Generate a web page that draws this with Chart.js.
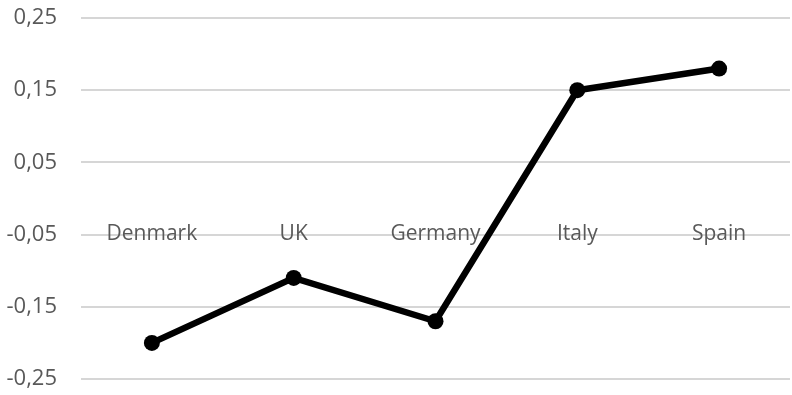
<!DOCTYPE html>
<html>
<head>
<meta charset="utf-8">
<script src="https://cdn.jsdelivr.net/npm/chart.js@4.4.1/dist/chart.umd.min.js"></script>
<style>
  html, body { margin: 0; padding: 0; background: #fff; overflow: hidden; }
  #wrap { width: 792px; height: 395px; overflow: hidden; }
  canvas { display: block; }
</style>
</head>
<body>
<div id="wrap"><canvas id="chart" width="798" height="395"></canvas></div>
<script>
const countries = ['Denmark', 'UK', 'Germany', 'Italy', 'Spain'];
const values = [-0.20, -0.11, -0.17, 0.15, 0.18];
const yMin = -0.25;
const yMax = 0.25;
const yStep = 0.1;

const labelColor = '#595959';
const gridColor = '#d6d6d6';
const family = '"Open Sans", sans-serif';

const fmt = v => v.toFixed(2).replace('.', ',');

new Chart(document.getElementById('chart'), {
  type: 'line',
  data: {
    labels: countries,
    datasets: [{
      data: values,
      borderColor: '#000',
      backgroundColor: '#000',
      borderWidth: 6.5,
      pointRadius: 8,
      pointHoverRadius: 8,
      pointBackgroundColor: '#000',
      pointBorderWidth: 0,
      tension: 0,
      fill: false
    }]
  },
  options: {
    responsive: false,
    animation: false,
    layout: { padding: { top: 18, bottom: 16, left: 0, right: 0 } },
    plugins: { legend: { display: false }, tooltip: { enabled: false } },
    scales: {
      x: {
        type: 'category',
        position: { y: 0 },
        offset: true,
        grid: { display: false, drawTicks: false },
        border: { display: false },
        ticks: { color: labelColor, font: { family, size: 21 }, padding: 23, autoSkip: false, maxRotation: 0 },
        afterFit: s => { s.height = 0; s.paddingLeft = 0; s.paddingRight = 0; }
      },
      y: {
        min: yMin,
        max: yMax,
        grid: { color: gridColor, lineWidth: 2, drawTicks: false },
        border: { display: false },
        ticks: { stepSize: yStep, color: labelColor, font: { family, size: 22 }, padding: 24, callback: v => fmt(v) },
        afterFit: s => { s.width = 81; s.paddingTop = 0; s.paddingBottom = 0; }
      }
    }
  }
});
</script>
</body>
</html>
